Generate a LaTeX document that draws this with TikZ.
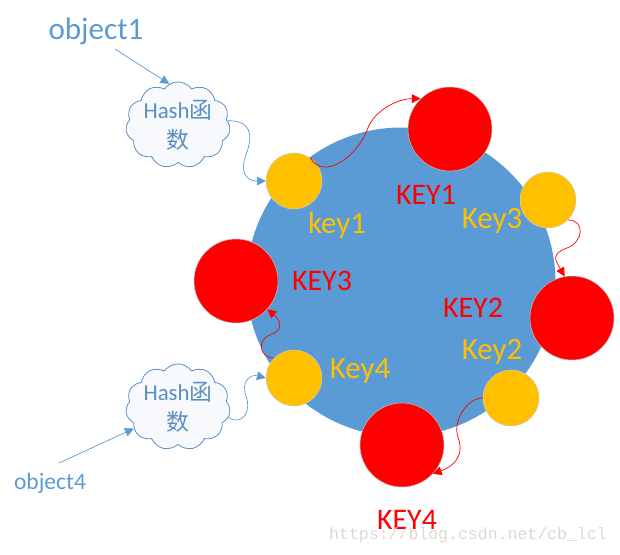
\documentclass[tikz,border=0pt]{standalone}
\usepackage{fontspec}
\setmainfont{Carlito}
\newfontfamily\cjk{Noto Sans CJK SC}
\newfontfamily\wmark{Liberation Mono}
\usetikzlibrary{arrows.meta,shapes.symbols}
\definecolor{ringBlue}{HTML}{5B9BD5}
\definecolor{keyGold}{HTML}{FFC000}
\definecolor{cloudEdge}{HTML}{5B8FC4}
\definecolor{cloudFill}{HTML}{F7F9FC}
\definecolor{markGrey}{HTML}{DAD9D2}

\begin{document}
\begin{tikzpicture}[
  x=0.02cm, y=-0.02cm,
  server/.style={circle, draw=black!25, line width=0.3pt, fill=red,
                 minimum size=1.68cm, inner sep=0pt},
  keydot/.style={circle, draw=black!20, line width=0.3pt, fill=keyGold,
                 minimum size=1.12cm, inner sep=0pt},
  hashcloud/.style={cloud, cloud puffs=11, cloud puff arc=110, aspect=1.3,
                 draw=cloudEdge, line width=0.45pt, fill=cloudFill, text=cloudEdge,
                 minimum width=2.02cm, minimum height=1.52cm, inner sep=0pt,
                 align=center, font=\fontsize{13}{17}\selectfont},
  objlabel/.style={text=ringBlue, inner sep=0pt},
  serverlabel/.style={text=red, inner sep=0pt, font=\fontsize{17}{20}\selectfont},
  keylabel/.style={text=keyGold, inner sep=0pt, font=\fontsize{17.6}{20}\selectfont},
  bluearrow/.style={-{Triangle[length=5pt,width=5pt]}, ringBlue, line width=0.4pt, looseness=1.5},
  redarrow/.style={-{Triangle[length=5pt,width=5pt]}, red, line width=0.4pt, looseness=1.2}
]
  \useasboundingbox (0,0) rectangle (620,555);
  \fill[ringBlue] (401,282) circle (3.09cm);

  \node[server] (key1srv) at (450,129) {};
  \node[server] (key2srv) at (572,318) {};
  \node[server] (key3srv) at (236,281) {};
  \node[server] (key4srv) at (402,445) {};

  \node[keydot] (dot1) at (294,181) {};
  \node[keydot] (dot2) at (511,398) {};
  \node[keydot] (dot3) at (548,200) {};
  \node[keydot] (dot4) at (294,378) {};

  \node[hashcloud] (hash1) at (178,125) {Hash{\cjk 函}\\{\cjk 数}};
  \node[hashcloud] (hash4) at (178,407) {Hash{\cjk 函}\\{\cjk 数}};

  \node[objlabel, font=\fontsize{17.7}{20}\selectfont] (obj1) at (96,31) {object1};
  \node[objlabel, font=\fontsize{13.4}{16}\selectfont] (obj4) at (50,483) {object4};

  \node[serverlabel] (lbl1) at (426,195) {KEY1};
  \node[serverlabel] (lbl2) at (473,308) {KEY2};
  \node[serverlabel] (lbl3) at (322,281) {KEY3};
  \node[serverlabel] (lbl4) at (407,520) {KEY4};

  \node[keylabel] (txt1) at (337,225) {key1};
  \node[keylabel] (txt2) at (492,352) {Key2};
  \node[keylabel] (txt3) at (492,221) {Key3};
  \node[keylabel] (txt4) at (360,371) {Key4};

  \node[text=markGrey, inner sep=0pt, font=\wmark\fontsize{9.4}{11}\selectfont] (mark) at (468,535)
    {https://blog.csdn.net/cb\_lcl};

  % free ends of the two straight arrows
  \coordinate (tail1) at (115,49);
  \coordinate (tail4) at (59,463);
  % bends of the wavy connectors
  \coordinate (bend1) at (246,155);
  \coordinate (bend2) at (367,130);
  \coordinate (bend3) at (567,248);
  \coordinate (bend4) at (458,437);
  \coordinate (bend5) at (270,335);
  \coordinate (bend6) at (246,396);

  \draw[bluearrow] (tail1) -- (hash1.102);
  \draw[bluearrow] (tail4) -- (hash4.206);
  \draw[bluearrow] (hash1.5) to[out=0,in=70] (bend1) to[out=250,in=180] (dot1.west);
  \draw[bluearrow] (hash4.-12) to[out=-30,in=-70] (bend6) to[out=110,in=165] (dot4.west);
  \draw[redarrow] (dot1.55) to[out=-60,in=250,looseness=1.1] (bend2) to[out=70,in=180,looseness=0.9] (key1srv.134);
  \draw[redarrow] (dot3.-45) to[out=0,in=20,looseness=1.6] (bend3) to[out=200,in=120,looseness=1.6] (key2srv.100);
  \draw[redarrow] (dot2.west) to[out=180,in=110,looseness=0.9] (bend4) to[out=-70,in=20] (key4srv.-43);
  \draw[redarrow] (dot4.north west) to[out=180,in=200,looseness=1.6] (bend5) to[out=20,in=-40,looseness=1.6] (key3srv.-42);
\end{tikzpicture}
\end{document}
